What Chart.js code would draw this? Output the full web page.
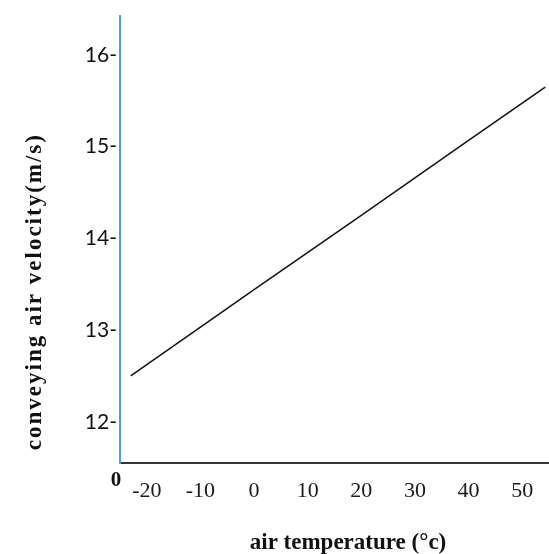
<!DOCTYPE html>
<html>
<head>
<meta charset="utf-8">
<script src="https://cdn.jsdelivr.net/npm/chart.js@4.4.1/dist/chart.umd.min.js"></script>
<style>
  html, body { margin: 0; padding: 0; background: #fff; }
  #wrap { position: relative; width: 549px; height: 554px; }
</style>
</head>
<body>
<div id="wrap"><canvas id="chart"></canvas></div>
<script>
(function () {
    "use strict";

    // values
    var temperature = [-23, 0, 20, 40, 54.3];
    var velocity = [12.50, 13.44, 14.25, 15.07, 15.65];
    var xTicks = [-20, -10, 0, 10, 20, 30, 40, 50];
    var yTicks = [12, 13, 14, 15, 16];
    var xTitle = "air temperature (\u00b0c)";
    var yTitle = "conveying air velocity(m/s)";
    var originLabel = "0";

    // axis titles + the lone "0" at the origin
    var axisText = {
        id: "axisText",
        afterDraw: function (chart) {
            var ctx = chart.ctx;
            var area = chart.chartArea;
            ctx.save();
            ctx.fillStyle = "#111";
            ctx.textAlign = "center";
            ctx.textBaseline = "middle";

            ctx.font = "bold 23px 'Liberation Serif'";
            ctx.fillText(xTitle, area.left + 228, area.bottom + 80);

            ctx.font = "bold 21px 'Liberation Serif'";
            ctx.fillText(originLabel, area.left - 4, area.bottom + 18);

            ctx.translate(35, area.top + 276);
            ctx.rotate(-Math.PI / 2);
            ctx.font = "bold 23px 'Liberation Serif'";
            if ("letterSpacing" in ctx) ctx.letterSpacing = "2px";
            ctx.fillText(yTitle, 0, 0);
            ctx.restore();
        }
    };

    var points = temperature.map(function (t, i) {
        return { x: t, y: velocity[i] };
    });

    var ctx1 = document.getElementById("chart").getContext("2d");
    var myChart = new Chart(ctx1, {
        type: "line",
        data: {
            datasets: [
                {
                    label: "velocity",
                    data: points,
                    borderColor: "#111",
                    borderWidth: 1.5,
                    pointRadius: 0,
                    tension: 0,
                    fill: false,
                },
            ],
        },
        options: {
            responsive: true,
            maintainAspectRatio: false,
            animation: false,
            layout: { padding: { top: 12, left: 0, right: 0, bottom: 0 } },
            plugins: {
                legend: { display: false },
                tooltip: { enabled: false },
            },
            scales: {
                x: {
                    type: "linear",
                    min: -25,
                    max: 55,
                    afterBuildTicks: function (scale) {
                        scale.ticks = xTicks.map(function (v) { return { value: v }; });
                    },
                    afterFit: function (scale) { scale.height = 91; },
                    grid: { drawOnChartArea: false, drawTicks: false, color: "transparent" },
                    border: { display: true, color: "#333", width: 2 },
                    ticks: {
                        padding: 15,
                        color: "#1a1a1a",
                        maxRotation: 0,
                        autoSkip: false,
                        font: { family: "'Liberation Serif'", size: 22 },
                    },
                },
                y: {
                    type: "linear",
                    min: 11.55,
                    max: 16.43,
                    afterBuildTicks: function (scale) {
                        scale.ticks = yTicks.map(function (v) { return { value: v }; });
                    },
                    afterFit: function (scale) { scale.width = 120; },
                    grid: { drawOnChartArea: false, drawTicks: false, color: "transparent" },
                    border: { display: true, color: "#5b9bd5", width: 2 },
                    ticks: {
                        padding: 3,
                        color: "#111",
                        autoSkip: false,
                        font: { family: "Lato", size: 21 },
                        callback: function (v) { return v + "-"; },
                    },
                },
            },
        },
        plugins: [axisText],
    });
})();
</script>
</body>
</html>
